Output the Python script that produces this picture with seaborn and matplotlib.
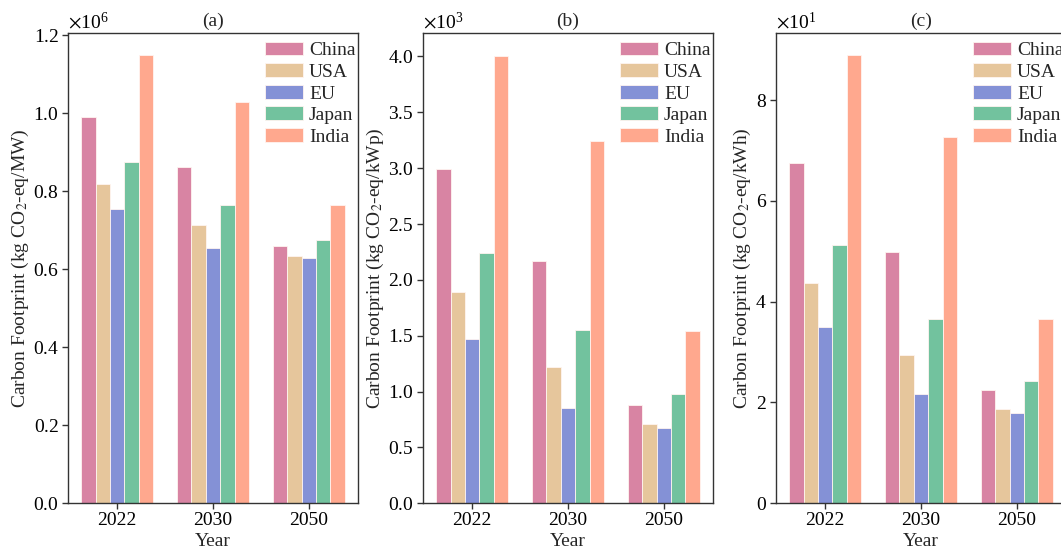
import matplotlib
matplotlib.use("Agg")
import matplotlib.pyplot as plt
import seaborn as sns
import pandas as pd
from matplotlib.ticker import ScalarFormatter

years = ["2022", "2030", "2050"]
countries = ["China", "USA", "EU", "Japan", "India"]
colors = ["#D884A3", "#E6C69C", "#8491D6", "#72C29E", "#FFA88E"]

# (a) kg CO2-eq/MW
a_china = [991000, 863000, 661000]
a_usa = [818000, 714000, 634000]
a_eu = [754000, 655000, 628000]
a_japan = [874000, 765000, 675000]
a_india = [1149000, 1030000, 764000]

# (b) kg CO2-eq/kWp
b_china = [2995, 2170, 880]
b_usa = [1890, 1220, 710]
b_eu = [1475, 850, 670]
b_japan = [2245, 1550, 975]
b_india = [4000, 3240, 1540]

# (c) kg CO2-eq/kWh
c_china = [67.5, 49.8, 22.4]
c_usa = [43.8, 29.5, 18.7]
c_eu = [35.0, 21.7, 17.9]
c_japan = [51.3, 36.6, 24.3]
c_india = [88.9, 72.7, 36.5]

panels = [
    ("(a)", "Carbon Footprint (kg CO$_2$-eq/MW)", [a_china, a_usa, a_eu, a_japan, a_india], 1.206e6),
    ("(b)", "Carbon Footprint (kg CO$_2$-eq/kWp)", [b_china, b_usa, b_eu, b_japan, b_india], 4.21e3),
    ("(c)", "Carbon Footprint (kg CO$_2$-eq/kWh)", [c_china, c_usa, c_eu, c_japan, c_india], 93.3),
]

sns.set_style("ticks")
plt.rcParams["font.family"] = ["Liberation Serif", "DejaVu Serif"]
plt.rcParams["mathtext.fontset"] = "stix"
plt.rcParams["axes.edgecolor"] = "#333333"
plt.rcParams["axes.linewidth"] = 1.0
plt.rcParams["xtick.color"] = "#333333"
plt.rcParams["ytick.color"] = "#333333"
plt.rcParams["xtick.labelcolor"] = "black"
plt.rcParams["ytick.labelcolor"] = "black"
plt.rcParams["xtick.major.size"] = 4
plt.rcParams["ytick.major.size"] = 4

FS = 14
W, H = 1061, 554
fig = plt.figure(figsize=(W / 100, H / 100), dpi=100)
lefts = [68, 423, 776]
aw, top, bottom = 290, 33, 503.3

for (title, ylabel, series, ytop), lpx in zip(panels, lefts):
    ax = fig.add_axes([lpx / W, (H - bottom) / H, aw / W, (bottom - top) / H])
    rows = []
    for c, vals in zip(countries, series):
        for y, v in zip(years, vals):
            rows.append({"Year": y, "Country": c, "Value": v})
    df = pd.DataFrame(rows)
    sns.barplot(data=df, x="Year", y="Value", hue="Country", order=years,
                hue_order=countries, palette=colors, width=0.75, saturation=1,
                errorbar=None, edgecolor="#FFF4F0", linewidth=0.6, ax=ax)
    ax.set_xlim(-0.515, 2.515)
    ax.set_ylim(0, ytop)
    fmt = ScalarFormatter(useMathText=True)
    fmt.set_powerlimits((0, 0))
    ax.yaxis.set_major_formatter(fmt)
    ax.yaxis.get_offset_text().set_fontsize(FS)
    ax.tick_params(labelsize=FS, width=1, pad=2.5)
    ax.set_xlabel("Year", fontsize=FS, labelpad=3)
    ax.set_ylabel(ylabel, fontsize=FS, labelpad=1.5)
    ax.set_title(title, fontsize=FS, pad=5)
    h, l = ax.get_legend_handles_labels()
    ax.legend(h, l, loc="upper right", bbox_to_anchor=(1.005, 0.99),
              frameon=False, fontsize=FS,
              handlelength=1.95, handleheight=0.72, labelspacing=0.2,
              handletextpad=0.3, borderaxespad=0.05, borderpad=0.15)

fig.savefig("out.png", dpi=100)
